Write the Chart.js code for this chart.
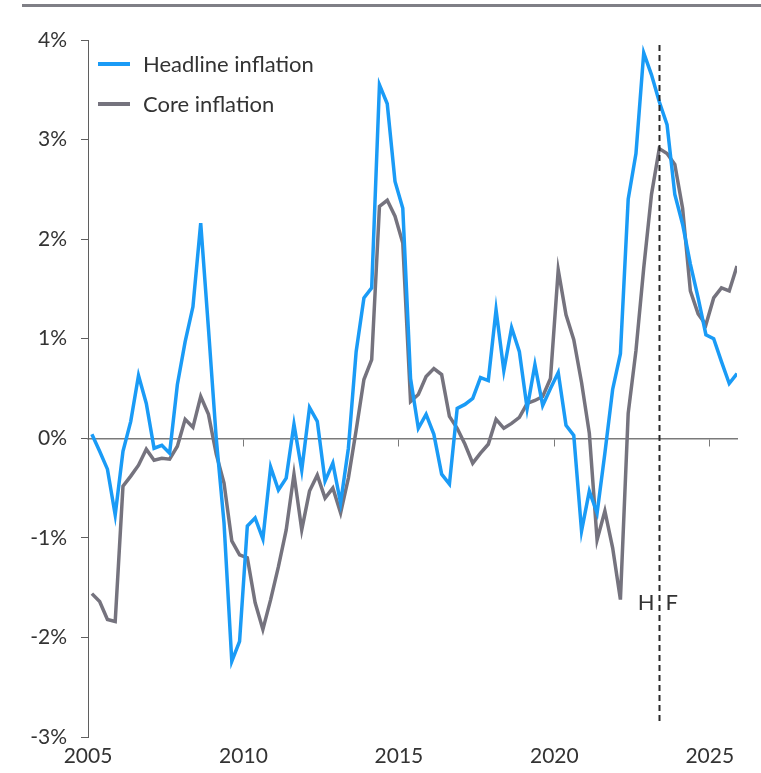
<!DOCTYPE html>
<html><head><meta charset="utf-8">
<script src="https://cdn.jsdelivr.net/npm/chart.js@4"></script>
<style>
html,body{margin:0;padding:0;background:#fff;}
#wrap{position:relative;width:761px;height:773px;overflow:hidden;}
#topRule{position:absolute;left:22px;right:0;top:4px;height:3px;background:#7f7f86;}
canvas{position:absolute;left:0;top:0;}
</style></head><body>
<div id="wrap"><div id="topRule"></div><canvas id="c" width="761" height="773"></canvas></div>
<script>
// ---- data ----
const startYear = 2005, endYear = 2025;
const quarters = [];
for (let yr = startYear; yr <= endYear; yr++) for (let q = 1; q <= 4; q++) quarters.push(yr + 'Q' + q);

const headline = [
  0.04, -0.13, -0.31, -0.77, -0.13, 0.17, 0.63, 0.35, -0.10, -0.07,
  -0.15, 0.54, 0.97, 1.32, 2.16, 1.10, 0.00, -0.85, -2.24, -2.04,
  -0.88, -0.80, -1.01, -0.29, -0.52, -0.40, 0.14, -0.32, 0.31, 0.17,
  -0.43, -0.25, -0.65, -0.10, 0.87, 1.41, 1.51, 3.55, 3.36, 2.58,
  2.31, 0.60, 0.10, 0.24, 0.04, -0.36, -0.46, 0.30, 0.34, 0.40,
  0.61, 0.58, 1.29, 0.68, 1.11, 0.87, 0.30, 0.74, 0.33, 0.50,
  0.66, 0.13, 0.03, -0.93, -0.53, -0.75, -0.15, 0.49, 0.85, 2.40,
  2.86, 3.87, 3.65, 3.38, 3.15, 2.45, 2.15, 1.75, 1.41, 1.04,
  1.00, 0.77, 0.55, 0.65
];
const core = [
  -1.56, -1.64, -1.82, -1.84, -0.48, -0.38, -0.27, -0.11, -0.22, -0.20,
  -0.21, -0.08, 0.19, 0.11, 0.42, 0.24, -0.16, -0.45, -1.03, -1.17,
  -1.20, -1.65, -1.92, -1.62, -1.29, -0.92, -0.36, -0.92, -0.53, -0.37,
  -0.60, -0.50, -0.75, -0.40, 0.08, 0.59, 0.79, 2.33, 2.39, 2.23,
  1.96, 0.37, 0.44, 0.62, 0.70, 0.64, 0.22, 0.10, -0.06, -0.25,
  -0.15, -0.06, 0.19, 0.10, 0.15, 0.21, 0.35, 0.38, 0.42, 0.60,
  1.69, 1.24, 0.99, 0.56, 0.05, -1.02, -0.73, -1.10, -1.62, 0.25,
  0.88, 1.71, 2.45, 2.91, 2.86, 2.75, 2.31, 1.48, 1.25, 1.14,
  1.41, 1.51, 1.48, 1.73
];
const seriesNames = ['Headline inflation', 'Core inflation'];
const xTickYears = [2005, 2010, 2015, 2020, 2025];
const yMin = -3, yMax = 4, yStep = 1;
const forecastStart = '2023Q2';
const forecastLabels = ['H', 'F'];

// ---- helpers ----
function qToYear(label) {
  const yr = parseInt(label.slice(0, 4), 10), q = parseInt(label.slice(5), 10);
  return yr + (q - 1) / 4 + 0.125;
}
const xs = quarters.map(qToYear);
const toPts = arr => arr.map((v, i) => ({x: xs[i], y: v}));
const xMin = startYear, xMax = xs[xs.length - 1];

const FONT = 'Lato';
const TXT = '#333333';
const AXIS = '#5f5f5f';
const BLUE = '#1a9bf6';
const GREY = '#75737e';

const decor = {
  id: 'decor',
  afterDatasetsDraw(chart) {
    const {ctx, scales: {x, y}} = chart;
    const fx = Math.round(x.getPixelForValue(qToYear(forecastStart))) + 0.5;
    ctx.save();
    ctx.strokeStyle = '#2a2a2a';
    ctx.lineWidth = 2;
    ctx.setLineDash([6, 4]);
    ctx.beginPath();
    ctx.moveTo(fx, y.getPixelForValue(3.95));
    ctx.lineTo(fx, y.getPixelForValue(-2.85));
    ctx.stroke();
    ctx.setLineDash([]);
    ctx.fillStyle = '#333';
    ctx.font = '22px ' + FONT;
    ctx.textBaseline = 'middle';
    const ly = y.getPixelForValue(-1.65);
    ctx.textAlign = 'right';
    ctx.fillText(forecastLabels[0], fx - 5, ly);
    ctx.textAlign = 'left';
    ctx.fillText(forecastLabels[1], fx + 6, ly);
    // legend
    const ca = chart.chartArea;
    chart.data.datasets.forEach((ds, i) => {
      const cy = ca.top + 24 + i * 40;
      ctx.strokeStyle = ds.borderColor;
      ctx.lineWidth = 4;
      ctx.beginPath();
      ctx.moveTo(ca.left + 10, cy);
      ctx.lineTo(ca.left + 42, cy);
      ctx.stroke();
      ctx.fillStyle = '#333';
      ctx.textAlign = 'left';
      ctx.fillText(ds.label, ca.left + 55, cy + 1);
    });
    ctx.restore();
  }
};

new Chart(document.getElementById('c'), {
  type: 'line',
  data: {
    datasets: [
      {label: seriesNames[0], data: toPts(headline), borderColor: BLUE, borderWidth: 3.5, pointRadius: 0, tension: 0, xAxisID: 'x', yAxisID: 'y'},
      {label: seriesNames[1], data: toPts(core), borderColor: GREY, borderWidth: 3.5, pointRadius: 0, tension: 0, xAxisID: 'x', yAxisID: 'y'}
    ]
  },
  options: {
    responsive: false,
    animation: false,
    devicePixelRatio: 1,
    layout: {padding: {top: 40, right: 24, bottom: 0, left: 0}},
    plugins: {legend: {display: false}, tooltip: {enabled: false}},
    scales: {
      x: {
        type: 'linear', position: 'bottom', min: xMin, max: xMax,
        afterBuildTicks: s => { s.ticks = xTickYears.map(v => ({value: v})); },
        afterFit: s => { s.height = 36; },
        grid: {display: false, drawTicks: false},
        border: {display: false},
        ticks: {padding: 7, color: TXT, font: {family: FONT, size: 21}, callback: v => String(v), maxRotation: 0, autoSkip: false}
      },
      x0: {
        type: 'linear', position: {y: 0}, min: xMin, max: xMax,
        afterBuildTicks: s => { s.ticks = xTickYears.map(v => ({value: v})); },
        grid: {display: true, drawOnChartArea: false, drawTicks: true, tickLength: 7, color: '#7a7a7a', lineWidth: 1},
        border: {display: true, color: '#7a7a7a', width: 1.5},
        ticks: {display: false}
      },
      y: {
        type: 'linear', position: 'left', min: yMin, max: yMax,
        afterFit: s => { s.width = 88; },
        ticks: {stepSize: yStep, padding: 14, color: TXT, font: {family: FONT, size: 21}, callback: v => v + '%'},
        grid: {display: true, drawOnChartArea: false, drawTicks: true, tickLength: 7, color: AXIS, lineWidth: 1},
        border: {display: true, color: AXIS, width: 1}
      }
    }
  },
  plugins: [decor]
});
</script>
</body></html>
